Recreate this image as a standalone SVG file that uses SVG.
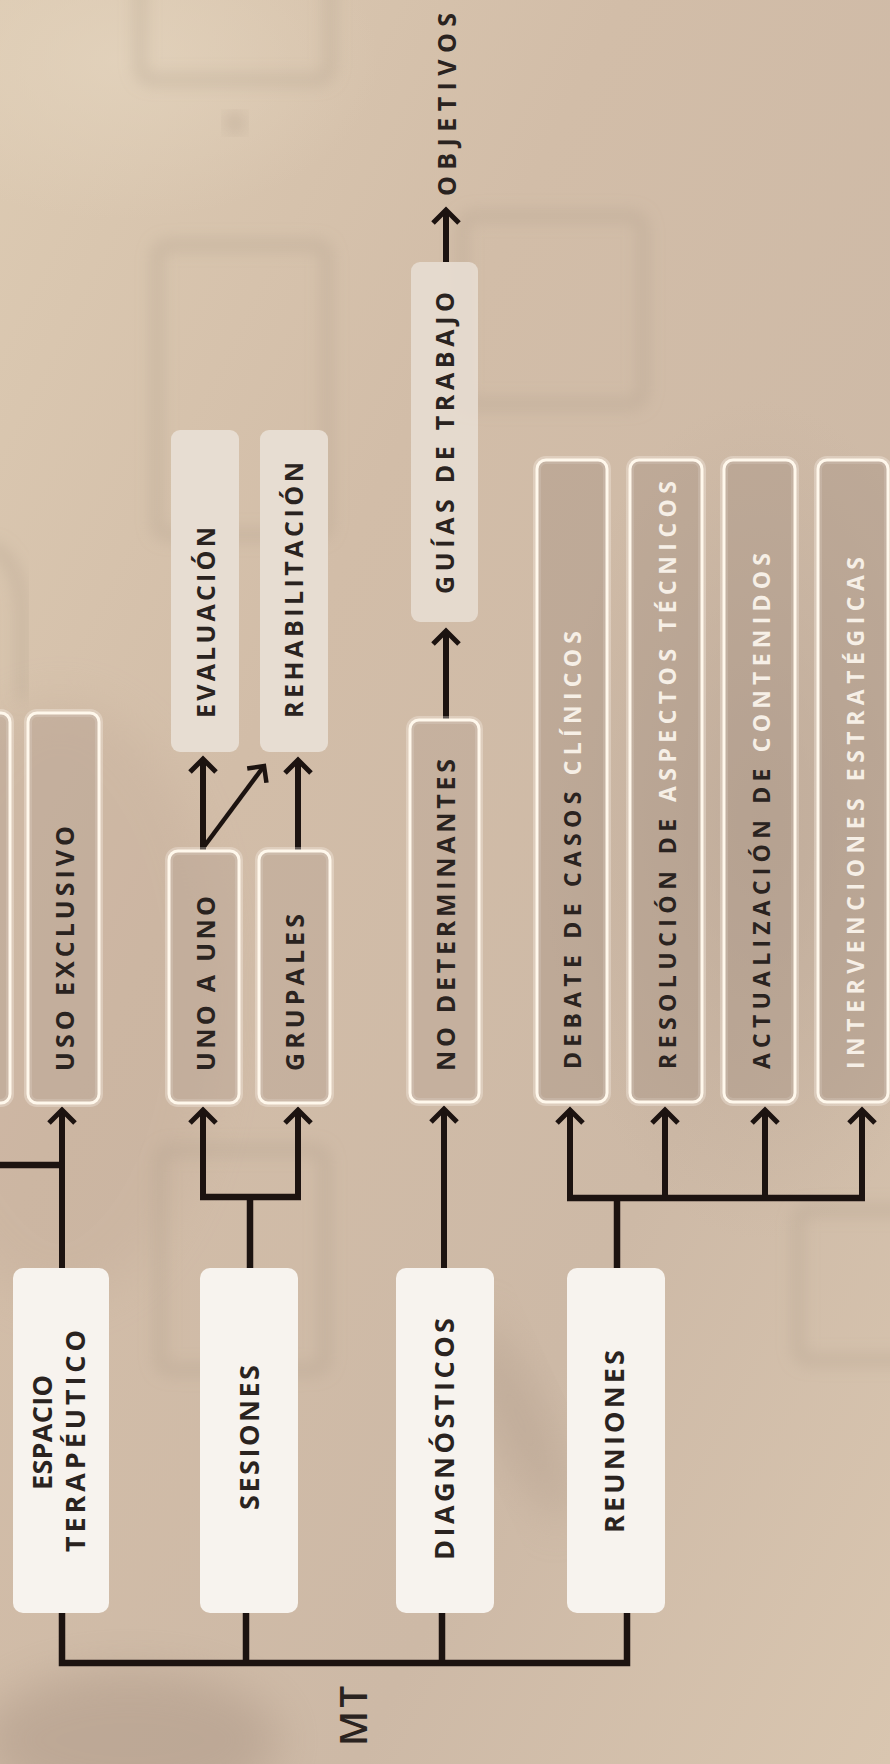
<svg xmlns="http://www.w3.org/2000/svg" width="890" height="1764" viewBox="0 0 890 1764">
<defs>
<linearGradient id="bg" x1="0" y1="0" x2="1" y2="1">
<stop offset="0" stop-color="#ddcbb3"/>
<stop offset="0.35" stop-color="#d2bda8"/>
<stop offset="0.7" stop-color="#cdb9a6"/>
<stop offset="1" stop-color="#d9c6b0"/>
</linearGradient>
<radialGradient id="blobR" cx="0.5" cy="0.5" r="0.5">
<stop offset="0" stop-color="#bba796" stop-opacity="0.7"/>
<stop offset="1" stop-color="#bba796" stop-opacity="0"/>
</radialGradient>
<radialGradient id="blobL" cx="0.5" cy="0.5" r="0.5">
<stop offset="0" stop-color="#e3d3bd" stop-opacity="0.8"/>
<stop offset="1" stop-color="#e3d3bd" stop-opacity="0"/>
</radialGradient>
<filter id="blur8" x="-20%" y="-20%" width="140%" height="140%"><feGaussianBlur stdDeviation="8"/></filter>
<filter id="blur20" x="-50%" y="-50%" width="200%" height="200%"><feGaussianBlur stdDeviation="22"/></filter>
<marker id="ah" viewBox="-18 -18 36 36" markerWidth="36" markerHeight="36" refX="0" refY="0" orient="auto" markerUnits="userSpaceOnUse">
<path d="M-13,-13 L0,0 L-13,13" fill="none" stroke="#1c1310" stroke-width="5" stroke-linejoin="miter"/>
</marker>
<marker id="ahs" viewBox="-18 -18 36 36" markerWidth="36" markerHeight="36" refX="0" refY="0" orient="auto" markerUnits="userSpaceOnUse">
<path d="M-12,-12 L0,0 L-12,12" fill="none" stroke="#1c1310" stroke-width="4.5" stroke-linejoin="miter"/>
</marker>
</defs>
<style>
.main{fill:#f7f3ee}
.soft{fill:#e7ddd2}
.out{fill:#b9a595;fill-opacity:0.45;stroke:#fff8ec;stroke-width:3}
.outg{fill:none;stroke:#fffaf2;stroke-width:8;stroke-opacity:0.3}
.out2{fill:#a89584;fill-opacity:0.45;stroke:#fff8ec;stroke-width:3}
.t{font-family:"Open Sans","Liberation Sans",sans-serif;font-weight:700;fill:#2a2320}
.tm{font-size:27px}
.tc{font-size:25px}
.tr{font-size:23px}
.lt{fill:#f6efe6}
.mt{font-family:"Open Sans","Liberation Sans",sans-serif;font-weight:600;font-size:38px;fill:#2a2320}
.ln{fill:none;stroke:#1c1310;stroke-width:6.5;stroke-linejoin:miter}
.la{fill:none;stroke:#1c1310;stroke-width:6;marker-end:url(#ah)}
.ld{fill:none;stroke:#1c1310;stroke-width:4.5;marker-end:url(#ahs)}
.sk{fill:none;stroke:#b09d8a;stroke-width:9;stroke-opacity:0.45;filter:url(#blur8)}
</style>
<rect width="890" height="1764" fill="url(#bg)"/>
<g id="background">
<ellipse cx="120" cy="60" rx="260" ry="160" fill="url(#blobL)"/>
<ellipse cx="760" cy="820" rx="220" ry="420" fill="url(#blobR)"/>
<ellipse cx="60" cy="1000" rx="160" ry="300" fill="#c2aa98" opacity="0.35" filter="url(#blur20)"/>
<ellipse cx="130" cy="1740" rx="150" ry="70" fill="#a89382" opacity="0.45" filter="url(#blur20)"/>
<ellipse cx="520" cy="1420" rx="25" ry="110" fill="#b29e8c" opacity="0.5" filter="url(#blur20)" transform="rotate(-25 520 1420)"/>
<rect class="sk" x="140" y="-30" width="190" height="110" rx="12"/>
<circle cx="235" cy="123" r="10" fill="#b09d8a" opacity="0.45" filter="url(#blur8)"/>
<path class="sk" d="M235,130 V215"/>
<rect class="sk" x="157" y="245" width="170" height="290" rx="10"/>
<rect class="sk" x="462" y="216" width="181" height="188" rx="12"/>
<path class="sk" d="M330,333 H462"/>
<path class="sk" d="M-10,545 Q20,560 22,610 V700"/>
<rect class="sk" x="160" y="1150" width="165" height="220" rx="10"/>
<rect class="sk" x="798" y="1210" width="120" height="150" rx="10"/>
<path class="sk" d="M0,900 H150"/>
</g>
<g id="connectors">
<path class="ln" d="M62,1612 V1663 H627 V1612"/>
<path class="ln" d="M246,1612 V1663"/>
<path class="ln" d="M442,1612 V1663"/>
<path class="la" d="M62,1269 V1110"/>
<path class="ln" d="M62,1165 H-5"/>
<path class="ln" d="M250,1269 V1197"/>
<path class="ln" d="M200,1197 H301"/>
<path class="la" d="M203,1200 V1110"/>
<path class="la" d="M298,1200 V1110"/>
<path class="la" d="M203,850 V759"/>
<path class="ld" d="M203,848 L264,766"/>
<path class="la" d="M298,850 V760"/>
<path class="la" d="M444,1269 V1109"/>
<path class="la" d="M446,720 V631"/>
<path class="la" d="M446,262 V210"/>
<path class="ln" d="M617,1269 V1198"/>
<path class="ln" d="M567,1198 H865"/>
<path class="la" d="M570,1200 V1110"/>
<path class="la" d="M665,1200 V1110"/>
<path class="la" d="M765,1200 V1110"/>
<path class="la" d="M862,1200 V1110"/>
</g>
<g id="node-partial-left">
<rect class="outg" x="-60" y="713" width="70" height="390" rx="9"/>
<rect class="out" x="-60" y="713" width="70" height="390" rx="9"/>
</g>
<g id="node-espacio">
<rect class="main" x="13" y="1268" width="96" height="345" rx="10"/>
<text class="t tm" transform="translate(52.2,1490) rotate(-90)" textLength="115" lengthAdjust="spacing">ESPACIO</text>
<text class="t tm" transform="translate(84.7,1552) rotate(-90)" textLength="222" lengthAdjust="spacing">TERAPÉUTICO</text>
</g>
<g id="node-sesiones">
<rect class="main" x="200" y="1268" width="98" height="345" rx="10"/>
<text class="t tm" transform="translate(258.7,1510) rotate(-90)" textLength="145" lengthAdjust="spacing">SESIONES</text>
</g>
<g id="node-diagnosticos">
<rect class="main" x="396" y="1268" width="98" height="345" rx="10"/>
<text class="t tm" transform="translate(453.7,1560) rotate(-90)" textLength="242" lengthAdjust="spacing">DIAGNÓSTICOS</text>
</g>
<g id="node-reuniones">
<rect class="main" x="567" y="1268" width="98" height="345" rx="10"/>
<text class="t tm" transform="translate(624.2,1533) rotate(-90)" textLength="183" lengthAdjust="spacing">REUNIONES</text>
</g>
<g id="node-uso-exclusivo">
<rect class="outg" x="28" y="713" width="71" height="390" rx="9"/>
<rect class="out" x="28" y="713" width="71" height="390" rx="9"/>
<text class="t tc" transform="translate(73.9,1071) rotate(-90)" textLength="245" lengthAdjust="spacing">USO EXCLUSIVO</text>
</g>
<g id="node-uno-a-uno">
<rect class="outg" x="169" y="851" width="70" height="252" rx="9"/>
<rect class="out" x="169" y="851" width="70" height="252" rx="9"/>
<text class="t tc" transform="translate(215.4,1071) rotate(-90)" textLength="175" lengthAdjust="spacing">UNO A UNO</text>
</g>
<g id="node-grupales">
<rect class="outg" x="259" y="851" width="71" height="252" rx="9"/>
<rect class="out" x="259" y="851" width="71" height="252" rx="9"/>
<text class="t tc" transform="translate(303.9,1071) rotate(-90)" textLength="157" lengthAdjust="spacing">GRUPALES</text>
</g>
<g id="node-evaluacion">
<rect class="soft" x="171" y="430" width="68" height="322" rx="9"/>
<text class="t tc" transform="translate(215.4,718) rotate(-90)" textLength="191" lengthAdjust="spacing">EVALUACIÓN</text>
</g>
<g id="node-rehabilitacion">
<rect class="soft" x="260" y="430" width="68" height="322" rx="9"/>
<text class="t tc" transform="translate(302.9,718) rotate(-90)" textLength="256" lengthAdjust="spacing">REHABILITACIÓN</text>
</g>
<g id="node-no-determinantes">
<rect class="outg" x="410" y="720" width="69" height="382" rx="9"/>
<rect class="out" x="410" y="720" width="69" height="382" rx="9"/>
<text class="t tc" transform="translate(454.9,1071) rotate(-90)" textLength="312" lengthAdjust="spacing">NO DETERMINANTES</text>
</g>
<g id="node-guias">
<rect class="soft" x="411" y="262" width="67" height="360" rx="9" fill-opacity="0.9"/>
<text class="t tc" transform="translate(453.9,594) rotate(-90)" textLength="302" lengthAdjust="spacing">GUÍAS DE TRABAJO</text>
</g>
<g id="node-objetivos">
<text class="t tc" transform="translate(455.9,196) rotate(-90)" textLength="183" lengthAdjust="spacing">OBJETIVOS</text>
</g>
<g id="node-debate">
<rect class="outg" x="537" y="460" width="70" height="642" rx="9"/>
<rect class="out2" x="537" y="460" width="70" height="642" rx="9"/>
<text class="t tr" transform="translate(581.2,1069) rotate(-90)" textLength="438" lengthAdjust="spacing">DEBATE DE CASOS <tspan class="lt">CLÍNICOS</tspan></text>
</g>
<g id="node-resolucion">
<rect class="outg" x="630" y="460" width="72" height="642" rx="9"/>
<rect class="out2" x="630" y="460" width="72" height="642" rx="9"/>
<text class="t tr" transform="translate(676.2,1069) rotate(-90)" textLength="588" lengthAdjust="spacing">RESOLUCIÓN DE <tspan class="lt">ASPECTOS TÉCNICOS</tspan></text>
</g>
<g id="node-actualizacion">
<rect class="outg" x="724" y="460" width="71" height="642" rx="9"/>
<rect class="out2" x="724" y="460" width="71" height="642" rx="9"/>
<text class="t tr" transform="translate(770.2,1069) rotate(-90)" textLength="516" lengthAdjust="spacing">ACTUALIZACIÓN DE <tspan class="lt">CONTENIDOS</tspan></text>
</g>
<g id="node-intervenciones">
<rect class="outg" x="818" y="460" width="70" height="642" rx="9"/>
<rect class="out2" x="818" y="460" width="70" height="642" rx="9"/>
<text class="t tr lt" transform="translate(864.2,1069) rotate(-90)" textLength="512" lengthAdjust="spacing">INTERVENCIONES ESTRATÉGICAS</text>
</g>
<g id="title">
<text class="mt" transform="translate(366.5,1746) rotate(-90)" textLength="60" lengthAdjust="spacing">MT</text>
</g>
</svg>
